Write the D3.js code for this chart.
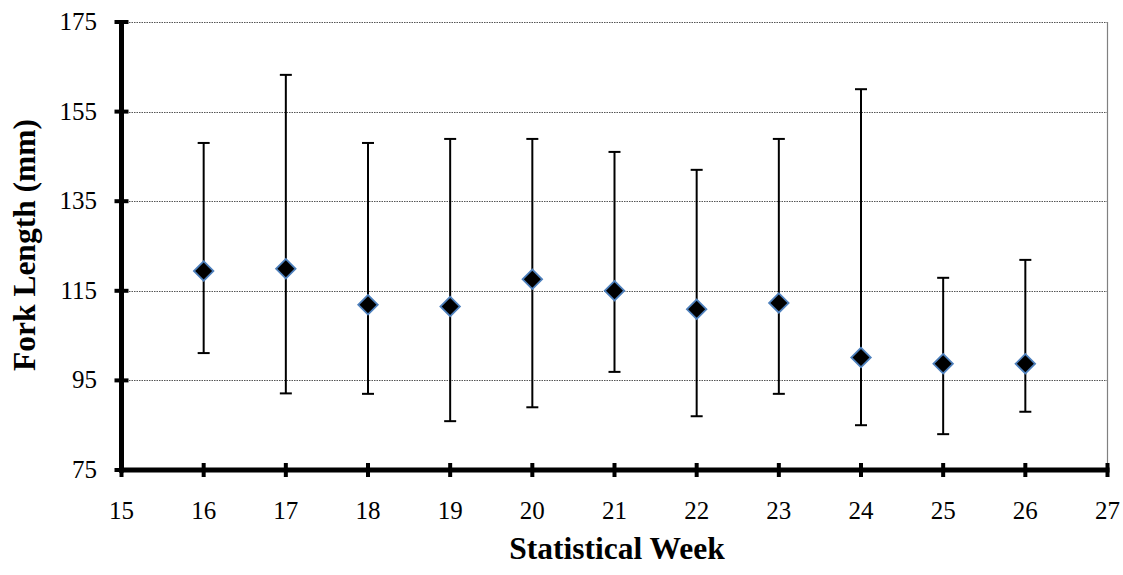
<!DOCTYPE html>
<html>
<head>
<meta charset="utf-8">
<title>Fork Length per Statistical Week</title>
<script src="https://cdn.jsdelivr.net/npm/d3@7"></script>
<style>
    body { margin: 0; background: #fff; }
    svg text { font-family: "Liberation Serif", "Times New Roman", "DejaVu Serif", serif; fill: #000; }
    .title { font-weight: bold; }
</style>
</head>
<body>
<div id="chart"></div>
<script>
(function() {
    'use strict';
    // statistical weeks and fork length summary (mm)
    var weeks = [16, 17, 18, 19, 20, 21, 22, 23, 24, 25, 26];
    var meanLen = [119.4, 119.9, 111.9, 111.5, 117.6, 115.0, 110.9, 112.3, 100.1, 98.7, 98.7];
    var maxLen = [148.0, 163.2, 148.0, 148.9, 148.9, 146.0, 142.0, 148.9, 160.0, 117.9, 121.9];
    var minLen = [101.1, 92.1, 92.0, 85.9, 89.0, 96.9, 87.0, 92.0, 85.0, 83.0, 88.0];
    var xTicks = [15, 16, 17, 18, 19, 20, 21, 22, 23, 24, 25, 26, 27];
    var yTicks = [75, 95, 115, 135, 155, 175];

    var width = 1123, height = 575;
    var left = 121.5, right = 1107.5, top = 22, bottom = 470;
    var serif = '"Liberation Serif", "Times New Roman", "DejaVu Serif", serif';

    var svg = d3.select('#chart').append('svg')
        .attr('width', width)
        .attr('height', height);

    var x = d3.scaleLinear().domain([15, 27]).range([left, right]);
    var y = d3.scaleLinear().domain([75, 175]).range([bottom, top]);

    // gridlines
    svg.selectAll('.grid')
        .data(yTicks.slice(1))
        .enter().append('line')
        .attr('x1', left).attr('x2', right)
        .attr('y1', function(d) { return Math.round(y(d)) + 0.5; })
        .attr('y2', function(d) { return Math.round(y(d)) + 0.5; })
        .attr('stroke', '#555')
        .attr('stroke-width', 1)
        .attr('stroke-dasharray', '1.5,1');

    // right border
    svg.append('line')
        .attr('x1', right).attr('x2', right)
        .attr('y1', top).attr('y2', bottom)
        .attr('stroke', '#808080')
        .attr('stroke-width', 1.2);

    // error bars
    var bars = svg.selectAll('.err')
        .data(weeks)
        .enter().append('g');
    bars.append('line')
        .attr('x1', function(d) { return x(d); })
        .attr('x2', function(d) { return x(d); })
        .attr('y1', function(d, i) { return y(maxLen[i]); })
        .attr('y2', function(d, i) { return y(minLen[i]); })
        .attr('stroke', '#000').attr('stroke-width', 2);
    bars.append('line')
        .attr('x1', function(d) { return x(d) - 6; })
        .attr('x2', function(d) { return x(d) + 6; })
        .attr('y1', function(d, i) { return y(maxLen[i]); })
        .attr('y2', function(d, i) { return y(maxLen[i]); })
        .attr('stroke', '#000').attr('stroke-width', 2);
    bars.append('line')
        .attr('x1', function(d) { return x(d) - 6; })
        .attr('x2', function(d) { return x(d) + 6; })
        .attr('y1', function(d, i) { return y(minLen[i]); })
        .attr('y2', function(d, i) { return y(minLen[i]); })
        .attr('stroke', '#000').attr('stroke-width', 2);

    // mean markers
    var diamond = d3.symbol().type(d3.symbolSquare).size(190);
    svg.selectAll('.pt')
        .data(weeks)
        .enter().append('path')
        .attr('d', diamond)
        .attr('transform', function(d, i) {
            return 'translate(' + x(d) + ',' + y(meanLen[i]) + ') rotate(45)';
        })
        .attr('fill', '#000')
        .attr('stroke', '#4f81bd')
        .attr('stroke-width', 1.8);

    // y axis
    svg.append('line')
        .attr('x1', left).attr('x2', left)
        .attr('y1', top - 2).attr('y2', bottom + 2.5)
        .attr('stroke', '#000').attr('stroke-width', 5);
    svg.selectAll('.ytick')
        .data(yTicks)
        .enter().append('line')
        .attr('x1', left - 7).attr('x2', left + 7)
        .attr('y1', function(d) { return y(d); })
        .attr('y2', function(d) { return y(d); })
        .attr('stroke', '#000').attr('stroke-width', 4);
    svg.selectAll('.ylab')
        .data(yTicks)
        .enter().append('text')
        .attr('x', 97)
        .attr('y', function(d) { return y(d) + 8; })
        .attr('text-anchor', 'end')
        .attr('font-family', serif)
        .style('font-size', '25px')
        .text(function(d) { return d; });

    // x axis
    svg.append('line')
        .attr('x1', left - 2.5).attr('x2', right + 2)
        .attr('y1', bottom).attr('y2', bottom)
        .attr('stroke', '#000').attr('stroke-width', 5);
    svg.selectAll('.xtick')
        .data(xTicks)
        .enter().append('line')
        .attr('x1', function(d) { return x(d); })
        .attr('x2', function(d) { return x(d); })
        .attr('y1', bottom - 7).attr('y2', bottom + 7)
        .attr('stroke', '#000').attr('stroke-width', 4);
    svg.selectAll('.xlab')
        .data(xTicks)
        .enter().append('text')
        .attr('x', function(d) { return x(d); })
        .attr('y', 519)
        .attr('text-anchor', 'middle')
        .attr('font-family', serif)
        .style('font-size', '25px')
        .text(function(d) { return d; });

    // axis titles
    svg.append('text')
        .attr('class', 'title')
        .attr('x', 617)
        .attr('y', 559)
        .attr('text-anchor', 'middle')
        .attr('font-family', serif)
        .style('font-size', '31.5px')
        .text('Statistical Week');

    svg.append('text')
        .attr('class', 'title')
        .attr('transform', 'translate(35,245) rotate(-90)')
        .attr('text-anchor', 'middle')
        .attr('font-family', serif)
        .style('font-size', '31.5px')
        .text('Fork Length (mm)');
})();
</script>
</body>
</html>
